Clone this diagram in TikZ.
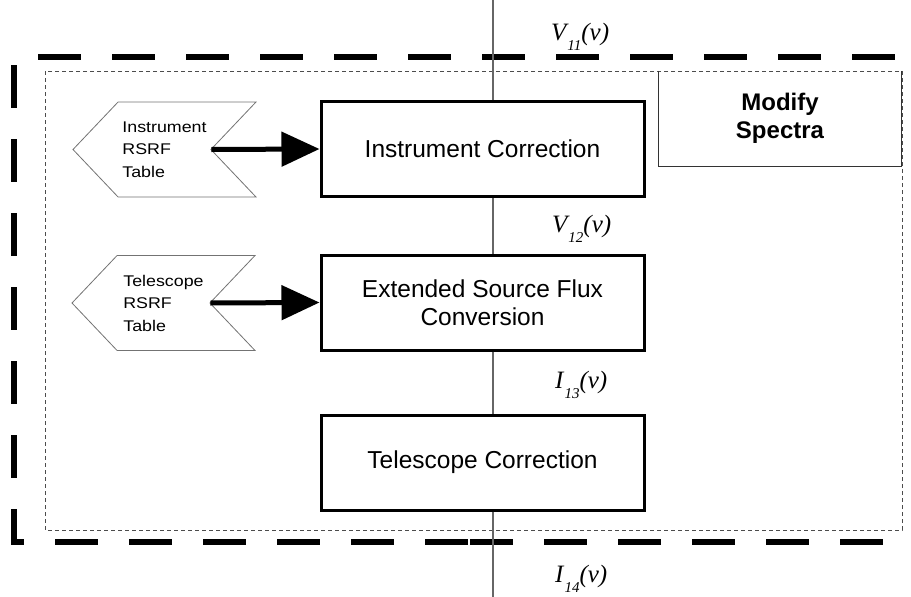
\documentclass[tikz,border=0pt]{standalone}
\usepackage{fontspec}
\setmainfont{Liberation Sans}
\newfontfamily\chevfont[FakeStretch=1.15]{Liberation Sans}
\newfontfamily\sigfont{Liberation Serif}
\usetikzlibrary{arrows.meta,shapes.symbols}

% signal name with subscript index, e.g. V_11(v)
\newcommand{\siglabel}[3]{{\sigfont\itshape\fontsize{25}{25}\selectfont #1\kern1pt\raisebox{-10pt}{\fontsize{15}{15}\selectfont #2}(#3)}}

\begin{document}
\begin{tikzpicture}[x=1pt,y=-1pt,
  mainbox/.style={draw=black,line width=3pt,fill=white,minimum width=323pt,
    minimum height=95pt,align=center,inner sep=0pt,
    font=\fontsize{24.5}{28}\selectfont},
  chev/.style={signal,signal to=west,signal from=east,signal pointer angle=93,
    draw=black!55,line width=0.8pt,fill=white,minimum width=183pt,
    minimum height=95pt,inner sep=0pt,align=left,
    font=\chevfont\fontsize{15.5}{22.5}\selectfont},
  flow/.style={draw=black!60,line width=1.1pt},
  feed/.style={draw=black,line width=5pt,-{Triangle[length=38pt,width=34pt]}},
  outer/.style={draw=black,line width=6pt,dash pattern=on 43pt off 31pt,line cap=butt},
  inner/.style={draw=black!70,line width=0.8pt,dash pattern=on 4pt off 3pt},
  siglbl/.style={anchor=base west,inner sep=0pt}
]
\useasboundingbox (0,0) rectangle (911,597);

% heavy dashed frame
\draw[outer] (14,65) -- (14,542) -- (468,542);
\draw[outer] (470,542) -- (884,542);
\draw[outer] (38,57) -- (911,57);

% light dashed frame
\draw[inner] (45,71) rectangle (902,530);

% Modify Spectra box (top edge shared with the light frame)
\node[minimum width=242pt,minimum height=95pt,inner sep=0pt,
  font=\bfseries\fontsize{24}{28}\selectfont,align=center]
  (mod) at (780,118.5) {Modify\\Spectra};
\draw[black!80,line width=1pt] (mod.north west) -- (mod.south west)
  -- (mod.south east) -- (mod.north east);

% signal flow line
\coordinate (top) at (493,0);
\coordinate (bot) at (493,597);

\node[mainbox] (ic) at (482.5,149) {Instrument Correction};
\node[mainbox] (esf) at (482.5,302.5) {Extended Source Flux\\Conversion};
\node[mainbox] (tc) at (482.5,462.5) {Telescope Correction};

\draw[flow] (top) -- (top |- ic.north);
\draw[flow] (top |- ic.south) -- (top |- esf.north);
\draw[flow] (top |- esf.south) -- (top |- tc.north);
\draw[flow] (top |- tc.south) -- (bot);

% lookup tables
\node[chev] (itab) at (164.5,149.5) {Instrument\\RSRF\\Table};
\node[chev] (ttab) at (163.5,303) {Telescope\\RSRF\\Table};
\draw[feed] (itab.east) -- (ic.west);
\draw[feed] (ttab.east) -- (esf.west);

% signal labels
\node[siglbl] (v11) at (551,40) {\siglabel{V}{11}{v}};
\node[siglbl] (v12) at (552,232) {\siglabel{V}{12}{v}};
\node[siglbl] (i13) at (555,388) {\siglabel{I}{13}{v}};
\node[siglbl] (i14) at (555,582) {\siglabel{I}{14}{v}};
\end{tikzpicture}
\end{document}
